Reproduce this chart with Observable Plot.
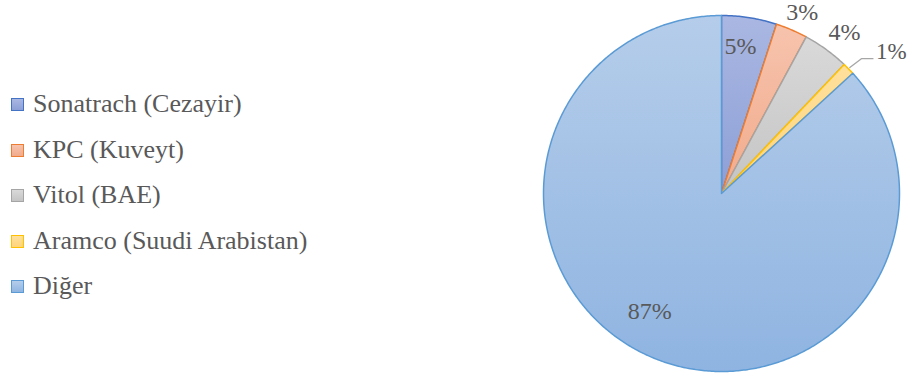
<!DOCTYPE html>
<html><head><meta charset="utf-8">
<script src="https://cdn.jsdelivr.net/npm/d3@7"></script>
<script src="https://cdn.jsdelivr.net/npm/@observablehq/plot@0.6"></script>
<style>
html,body{margin:0;padding:0;background:#fff;}
#wrap{position:relative;width:909px;height:378px;}
#wrap, #wrap *{font-family:"Liberation Serif","Times New Roman",serif !important;}
.item{position:absolute;left:11px;white-space:nowrap;font-size:26px;color:#595959;line-height:26px;height:26px;}
.sw{position:absolute;left:0;top:7px;width:11px;height:11px;border:1.5px solid;}
.lab{position:absolute;left:22px;top:0;}
</style></head>
<body><div id="wrap"></div>
<script>
const labels = ["Sonatrach (Cezayir)", "KPC (Kuveyt)", "Vitol (BAE)", "Aramco (Suudi Arabistan)", "Diğer"];
const values = [5.0, 2.9, 4.2, 1.1, 86.8];
const pctLabels = ["5%", "3%", "4%", "1%", "87%"];
const strokes = ["#4472c4", "#ed7d31", "#a5a5a5", "#ffc000", "#5b9bd5"];
const gradTop = ["#aab7e2", "#f7c3ad", "#d9d9d9", "#ffe09c", "#b5cdea"];
const gradBot = ["#8c9fd6", "#f1ab8c", "#c4c4c4", "#ffd47a", "#8fb4e1"];
// label placement (radius factor, angle in degrees clockwise from top)
const labelR = [0.836, 1.115, 1.138, 1.0, 0.777];
const labelA = [7.35, 24.0, 37.4, 0, 211.2];

const FONT = "Liberation Serif";
const W = 909, H = 378, cx = 721, cy = 193, R = 178;
const pie = d3.pie().sort(null).value(d => d)(values);

const rad = a => a * Math.PI / 180;
const slicePts = [];
pie.forEach((p, i) => {
  const a0 = p.startAngle, a1 = p.endAngle;
  const n = Math.max(4, Math.ceil((a1 - a0) / 0.01));
  slicePts.push({i, x: 0, y: 0});
  for (let k = 0; k <= n; k++) {
    const a = a0 + (a1 - a0) * k / n;
    slicePts.push({i, x: Math.sin(a), y: Math.cos(a)});
  }
  slicePts.push({i, x: 0, y: 0});
});

const labelData = pie.map((p, i) => {
  if (i === 3) return null;
  const a = rad(labelA[i]);
  return {t: pctLabels[i], x: labelR[i] * Math.sin(a), y: labelR[i] * Math.cos(a)};
}).filter(d => d);

// leader line for the small Aramco slice
const pa = pie[3];
const mid = (pa.startAngle + pa.endAngle) / 2;
const sx = 1.01 * Math.sin(mid), sy = 1.01 * Math.cos(mid);
const leader = [
  {x: sx, y: sy},
  {x: sx + 0.065, y: sy + 0.05},
  {x: sx + 0.13, y: sy + 0.05}
];
const lastLeader = leader[2];

const marks = pie.map((p, i) => Plot.line(slicePts.filter(d => d.i === i), {
  x: "x", y: "y", fill: `url(#g${i})`, stroke: strokes[i], strokeWidth: 1.5, strokeLinejoin: "round", curve: "linear"
}));
marks.push(Plot.text(labelData, {x: "x", y: "y", text: "t", fill: "#595959", fontSize: 24, fontFamily: FONT}));
marks.push(Plot.line(leader, {x: "x", y: "y", stroke: "#a6a6a6", strokeWidth: 1.3}));
marks.push(Plot.text([lastLeader], {x: "x", y: "y", text: () => pctLabels[3], textAnchor: "start", dx: 3, dy: -7, fill: "#595959", fontSize: 23, fontFamily: FONT}));

const chart = Plot.plot({
  width: W, height: H,
  margin: 0,
  x: {type: "linear", domain: [-cx / R, (W - cx) / R], range: [0, W], axis: null},
  y: {type: "linear", domain: [-(H - cy) / R, cy / R], range: [H, 0], axis: null},
  style: {background: "transparent", overflow: "visible"},
  marks
});

const defs = d3.select(chart).insert("defs", ":first-child");
gradTop.forEach((c, i) => {
  const g = defs.append("linearGradient").attr("id", `g${i}`).attr("x1", 0).attr("y1", 0).attr("x2", 0).attr("y2", 1);
  g.append("stop").attr("offset", "0%").attr("stop-color", c);
  g.append("stop").attr("offset", "100%").attr("stop-color", gradBot[i]);
});
chart.style.position = "absolute";
chart.style.left = "0";
chart.style.top = "0";
const wrap = document.getElementById("wrap");
wrap.appendChild(chart);

labels.forEach((l, i) => {
  const d = document.createElement("div");
  d.className = "item";
  d.style.top = (91 + i * 45.5) + "px";
  d.innerHTML = `<span class="sw" style="border-color:${strokes[i]};background:linear-gradient(${gradTop[i]},${gradBot[i]})"></span><span class="lab">${l}</span>`;
  wrap.appendChild(d);
});
</script></body></html>
